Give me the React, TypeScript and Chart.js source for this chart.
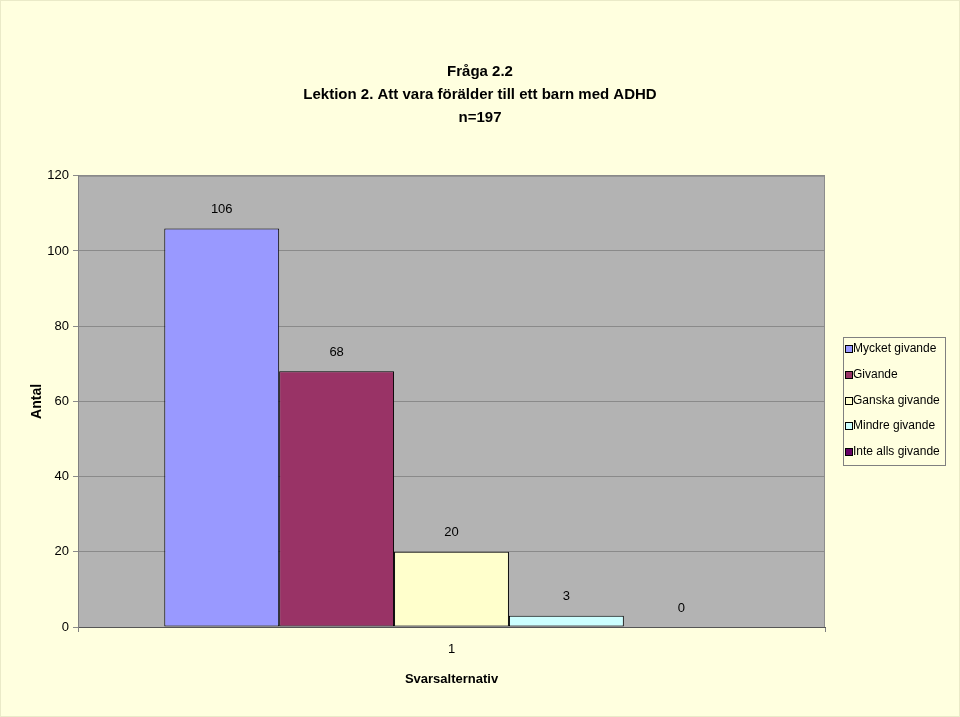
import React, { useEffect, useRef } from "react";
import { Chart, registerables } from "chart.js";

Chart.register(...registerables);

const categories = ["1"];
const seriesNames = ["Mycket givande", "Givande", "Ganska givande", "Mindre givande", "Inte alls givande"];
const seriesValues = [106, 68, 20, 3, 0];
const seriesColors = ["#9999FF", "#993366", "#FFFFCC", "#CCFFFF", "#660066"];
const titleLines = ["Fråga 2.2", "Lektion 2. Att vara förälder till ett barn med ADHD", "n=197"];
const yTitle = "Antal";
const xTitle = "Svarsalternativ";

const FONT = "'Liberation Sans', Arial, sans-serif";

const plotBg = {
  id: "plotBg",
  beforeDraw(chart: any) {
    const { ctx, chartArea: a } = chart;
    ctx.save();
    ctx.fillStyle = "#B3B3B3";
    ctx.fillRect(a.left, a.top, a.right - a.left, a.bottom - a.top);
    ctx.strokeStyle = "#8C8C8C";
    ctx.lineWidth = 1;
    ctx.strokeRect(a.left + 0.5, a.top + 0.5, a.right - a.left - 1, a.bottom - a.top);
    ctx.restore();
  },
};

const valueLabels = {
  id: "valueLabels",
  afterDatasetsDraw(chart: any) {
    const { ctx } = chart;
    ctx.save();
    ctx.font = `13px ${FONT}`;
    ctx.fillStyle = "#000";
    ctx.textAlign = "center";
    ctx.textBaseline = "middle";
    chart.data.datasets.forEach((ds: any, i: number) => {
      const meta = chart.getDatasetMeta(i);
      meta.data.forEach((el: any, j: number) => {
        ctx.fillText(String(ds.data[j]), el.x, el.y - 19);
      });
    });
    ctx.restore();
  },
};

const boxLegend = {
  id: "boxLegend",
  afterDraw(chart: any) {
    const { ctx, chartArea: a } = chart;
    const w = 102;
    const h = 128;
    const left = Math.round(a.right + 18);
    const top = Math.round((a.top + a.bottom) / 2 - h / 2);
    ctx.save();
    ctx.strokeStyle = "#808080";
    ctx.lineWidth = 1;
    ctx.strokeRect(left + 0.5, top + 0.5, w, h);
    ctx.font = `12px ${FONT}`;
    ctx.textBaseline = "middle";
    ctx.textAlign = "left";
    chart.data.datasets.forEach((ds: any, i: number) => {
      const cy = Math.round(top + 12 + i * 25.8);
      ctx.fillStyle = ds.backgroundColor;
      ctx.fillRect(left + 2.5, cy - 3.5, 7, 7);
      ctx.strokeStyle = "#000";
      ctx.strokeRect(left + 2.5, cy - 3.5, 7, 7);
      ctx.fillStyle = "#000";
      ctx.fillText(ds.label, left + 10, cy);
    });
    ctx.restore();
  },
};

export default function App() {
  const ref = useRef<HTMLCanvasElement | null>(null);
  useEffect(() => {
    if (!ref.current) return;
    const chart = new Chart(ref.current, {
      type: "bar",
      data: {
        labels: categories,
        datasets: seriesNames.map((name, i) => ({
          label: name,
          data: [seriesValues[i]],
          backgroundColor: seriesColors[i],
          borderColor: "#000",
          borderWidth: 1,
          borderSkipped: false,
          categoryPercentage: 0.769,
          barPercentage: 1,
          yAxisID: "y",
        })),
      },
      options: {
        animation: false,
        responsive: false,
        maintainAspectRatio: false,
        layout: { padding: 0 },
        plugins: {
          legend: { display: false },
          tooltip: { enabled: false },
          title: {
            display: true,
            text: titleLines,
            color: "#000",
            font: { family: FONT, size: 15, weight: "bold", lineHeight: 1.55 },
            padding: { top: 59, bottom: 46 },
          },
        },
        scales: {
          x: {
            afterFit(scale: any) {
              scale.height = 89;
            },
            grid: {
              offset: true,
              drawOnChartArea: false,
              drawTicks: true,
              tickLength: 5,
              color: "#808080",
            },
            border: { color: "#555", width: 1 },
            ticks: { color: "#000", font: { family: FONT, size: 13 }, padding: 10 },
            title: {
              display: true,
              text: xTitle,
              color: "#000",
              font: { family: FONT, size: 13, weight: "bold", lineHeight: 1.2 },
              padding: { top: 0, bottom: 29 },
            },
          },
          y: {
            min: 0,
            max: 120,
            afterFit(scale: any) {
              scale.width = 77;
            },
            ticks: { stepSize: 20, color: "#000", font: { family: FONT, size: 13 }, padding: 4 },
            grid: { color: "#8A8A8A", tickLength: 5 },
            border: { color: "#808080", width: 1 },
            title: {
              display: true,
              text: yTitle,
              color: "#000",
              font: { family: FONT, size: 14, weight: "bold", lineHeight: 1.2 },
              padding: { top: 28, bottom: 0 },
            },
          },
          legendSpace: {
            type: "linear",
            position: "right",
            min: 0,
            max: 1,
            afterFit(scale: any) {
              scale.width = 134;
            },
            ticks: { display: false },
            grid: { display: false, drawTicks: false },
            border: { display: false },
          },
        },
      },
      plugins: [plotBg, valueLabels, boxLegend],
    });
    return () => chart.destroy();
  }, []);
  return (
    <div style={{ position: "fixed", left: 0, top: 0, width: 960, height: 717, background: "#FFFFDF", boxSizing: "border-box", border: "1px solid #EAEAC8" }}>
      <canvas ref={ref} width={958} height={715} style={{ display: "block", width: 958, height: 715 }} />
    </div>
  );
}
